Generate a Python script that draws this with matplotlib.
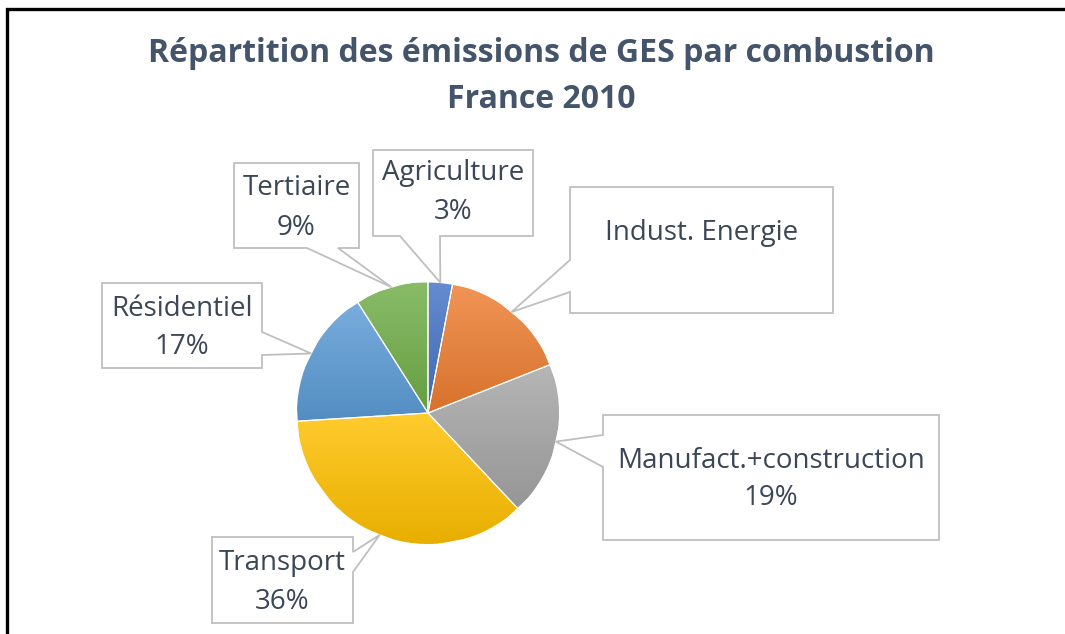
import numpy as np
import matplotlib.pyplot as plt
from matplotlib.colors import to_rgb
from matplotlib.patches import Polygon

# Data
sectors = ["Agriculture", "Indust. Energie", "Manufact.+construction",
           "Transport", "Résidentiel", "Tertiaire"]
shares = [3, 16, 19, 36, 17, 9]
show_pct = [True, False, True, True, True, True]
colors = ["#4472C4", "#ED7D31", "#A5A5A5", "#FFC000", "#5B9BD5", "#70AD47"]

W, H = 1065, 634
plt.rcParams['font.family'] = ['Open Sans', 'DejaVu Sans']

fig = plt.figure(figsize=(W / 100, H / 100), dpi=100)
ax = fig.add_axes([0, 0, 1, 1])


def py(y):
    # pixel row -> data y
    return H - y


cx, cy, r = 428, py(413), 131
wedges, _ = ax.pie(shares, colors=colors, startangle=90, counterclock=False,
                   center=(cx, cy), radius=r,
                   wedgeprops=dict(edgecolor="white", linewidth=0.8))

# soft vertical gradient inside each wedge
for w, c in zip(wedges, colors):
    base = np.array(to_rgb(c))
    top = base + (1 - base) * 0.18
    bot = base * 0.91
    t = np.linspace(0, 1, 64)[:, None]
    img = (top[None, :] * (1 - t) + bot[None, :] * t)[:, None, :]
    img = np.repeat(img, 2, axis=1)
    bb = w.get_path().get_extents(w.get_patch_transform())
    im = ax.imshow(img, extent=(bb.x0, bb.x1, bb.y0, bb.y1), origin="upper",
                   aspect="auto", zorder=w.get_zorder() + 0.1)
    im.set_clip_path(w)
    edge = Polygon(w.get_path().transformed(w.get_patch_transform()).vertices,
                   closed=True, fill=False, edgecolor="white", linewidth=0.8,
                   zorder=w.get_zorder() + 0.2)
    ax.add_patch(edge)

# callout layout (pixels): box, side of pointer, pointer base along side, text rows
boxes = [
    ((373, 150, 533, 236), "bottom", (400, 440), (173, 212)),
    ((570, 187, 833, 313), "left", (260, 292), (233, None)),
    ((603, 415, 939, 540), "left", (435, 467), (461, 498)),
    ((212, 537, 353, 623), "right", (552, 572), (563, 602)),
    ((102, 283, 262, 368), "right", (332, 355), (309, 347)),
    ((234, 163, 359, 248), "bottom", (307, 338), (188, 228)),
]

label_color = "#3B4656"
edge_color = "#BFBFBF"
for w, name, share, pct, (box, side, (a, b), (ty1, ty2)) in zip(
        wedges, sectors, shares, show_pct, boxes):
    mid = np.deg2rad((w.theta1 + w.theta2) / 2)
    tip = (cx + r * np.cos(mid), cy + r * np.sin(mid))
    x0, y0, x1, y1 = box
    if side == "bottom":
        pts = [(x0, y0), (x1, y0), (x1, y1), (b, y1), None, (a, y1), (x0, y1)]
    elif side == "left":
        pts = [(x0, y0), (x1, y0), (x1, y1), (x0, y1), (x0, b), None, (x0, a)]
    else:
        pts = [(x0, y0), (x1, y0), (x1, a), None, (x1, b), (x1, y1), (x0, y1)]
    verts = [tip if p is None else (p[0], py(p[1])) for p in pts]
    ax.add_patch(Polygon(verts, closed=True, facecolor="white",
                         edgecolor=edge_color, linewidth=1.3, zorder=5))
    tx = (x0 + x1) / 2
    ax.text(tx, py(ty1), name, ha="center", va="center", fontsize=20,
            color=label_color, zorder=6)
    if pct and ty2 is not None:
        ax.text(tx, py(ty2), f"{share}%", ha="center", va="center",
                fontsize=20, color=label_color, zorder=6)

ax.text(541, py(53), "Répartition des émissions de GES par combustion",
        ha="center", va="center", fontsize=23, fontweight="bold", color="#44546A")
ax.text(541, py(100), "France 2010", ha="center", va="center",
        fontsize=23, fontweight="bold", color="#44546A")

# frame of the screenshot (top and left edges only)
ax.plot([7, 7, W], [0, py(8.5), py(8.5)], color="black", linewidth=2.4,
        solid_joinstyle="miter", zorder=7)

ax.set_xlim(0, W)
ax.set_ylim(0, H)
ax.set_aspect("auto")
ax.axis("off")
fig.savefig("out.png", dpi=100, facecolor="white")
